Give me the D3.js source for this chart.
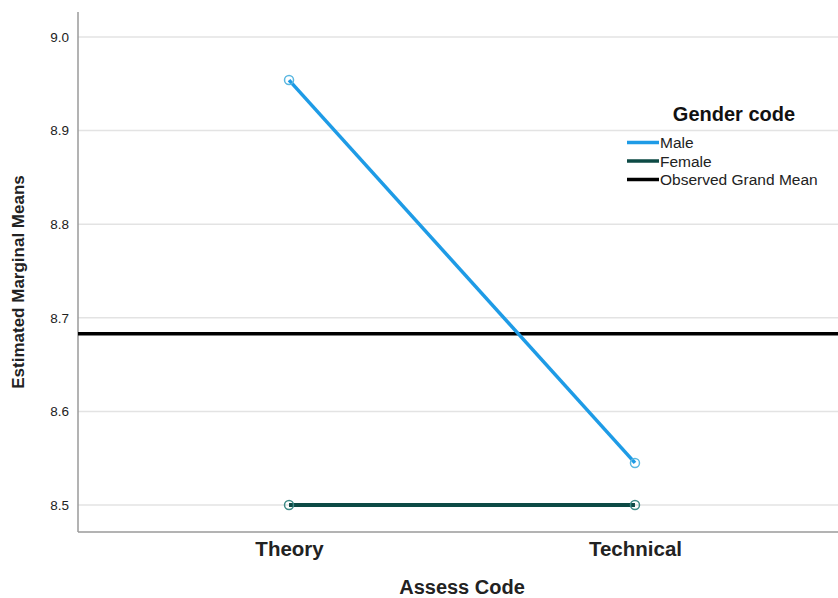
<!DOCTYPE html>
<html lang='en'>
	<head>
		<title>Estimated Marginal Means</title>
		<script type='text/javascript' src='https://cdn.jsdelivr.net/npm/d3@7'></script>
		<style>
			body { margin: 0; background: #fff; }
			text { font-family: Arial, 'Liberation Sans', sans-serif; }
		</style>
	</head>
	<body>
		<script type='text/javascript'>
		var categories = ['Theory', 'Technical'];
		var male_values = [8.954, 8.545];
		var female_values = [8.500, 8.500];
		var grand_mean = 8.683;
		var y_ticks = [8.5, 8.6, 8.7, 8.8, 8.9, 9.0];
		var legend_labels = ['Male', 'Female', 'Observed Grand Mean'];
		var legend_colors = ['#1e9be6', '#0d4a45', '#000000'];

		{
			var width = 838, height = 598;
			var svg = d3.select('body').append('svg').attr('width', width).attr('height', height)

			var plot_l = 78, plot_r = 838, plot_t = 12, plot_b = 532;

			var x = d3.scalePoint().domain(categories).range([plot_l, 846]).padding(0.61)
			var y = d3.scaleLinear().domain([8.4712, 9.0267]).range([plot_b, plot_t])

			// grid lines
			svg.selectAll('line.grid').data(y_ticks).enter().append('line')
				.attr('class', 'grid')
				.attr('x1', plot_l).attr('x2', plot_r)
				.attr('y1', d => y(d)).attr('y2', d => y(d))
				.attr('stroke', '#e3e3e3').attr('stroke-width', 1.5)

			// y axis
			var yAxis = svg.append('g').attr('transform', 'translate(' + plot_l + ',0)')
				.call(d3.axisLeft(y).tickValues(y_ticks).tickFormat(d3.format('.1f')).tickSize(0).tickPadding(9))
			yAxis.select('.domain').remove()
			yAxis.selectAll('text').attr('font-size', 13.5).attr('fill', '#222')
			svg.append('line').attr('x1', plot_l).attr('x2', plot_l).attr('y1', plot_t).attr('y2', plot_b)
				.attr('stroke', '#9a9a9a').attr('stroke-width', 1.5)

			// x axis
			var xAxis = svg.append('g').attr('transform', 'translate(0,' + plot_b + ')')
				.call(d3.axisBottom(x).tickSize(0).tickPadding(9))
			xAxis.select('.domain').remove()
			xAxis.selectAll('text').attr('font-size', 20.5).attr('font-weight', 'bold').attr('fill', '#222')
			svg.append('line').attr('x1', plot_l).attr('x2', plot_r).attr('y1', plot_b).attr('y2', plot_b)
				.attr('stroke', '#9a9a9a').attr('stroke-width', 1.5)

			// axis titles
			svg.append('text').attr('x', 462).attr('y', 594)
				.attr('text-anchor', 'middle').attr('font-size', 20).attr('font-weight', 'bold').attr('fill', '#222')
				.text('Assess Code')
			svg.append('text').attr('transform', 'translate(24,282) rotate(-90)')
				.attr('text-anchor', 'middle').attr('font-size', 17).attr('font-weight', 'bold').attr('fill', '#222')
				.text('Estimated Marginal Means')

			// grand mean
			svg.append('line').attr('x1', plot_l).attr('x2', plot_r)
				.attr('y1', y(grand_mean)).attr('y2', y(grand_mean))
				.attr('stroke', '#000').attr('stroke-width', 3.5)

			var line = d3.line().x((d, i) => x(categories[i])).y(d => y(d))
			var series = [
				{ values: male_values, color: legend_colors[0], marker: '#5ab7e0', width: 3.5 },
				{ values: female_values, color: legend_colors[1], marker: '#3e8a86', width: 4 }
			];
			series.forEach(function(s) {
				svg.append('path').attr('d', line(s.values)).attr('fill', 'none')
					.attr('stroke', s.color).attr('stroke-width', s.width)
				svg.selectAll(null).data(s.values).enter().append('circle')
					.attr('cx', (d, i) => x(categories[i])).attr('cy', d => y(d)).attr('r', 4.5)
					.attr('fill', 'none').attr('stroke', s.marker).attr('stroke-width', 1.5)
			})

			// legend
			svg.append('text').attr('x', 734).attr('y', 121).attr('text-anchor', 'middle')
				.attr('font-size', 20).attr('font-weight', 'bold').attr('fill', '#111').text('Gender code')
			var leg = svg.selectAll('g.leg').data(legend_labels).enter().append('g')
				.attr('transform', (d, i) => 'translate(627,' + (142.5 + i * 18.5) + ')')
			leg.append('line').attr('x1', 0).attr('x2', 32).attr('y1', 0).attr('y2', 0)
				.attr('stroke', (d, i) => legend_colors[i]).attr('stroke-width', 3.5)
			leg.append('text').attr('x', 33).attr('y', 5.5).attr('font-size', 15.5).attr('fill', '#222').text(d => d)
		}
		</script>
	</body>
</html>
